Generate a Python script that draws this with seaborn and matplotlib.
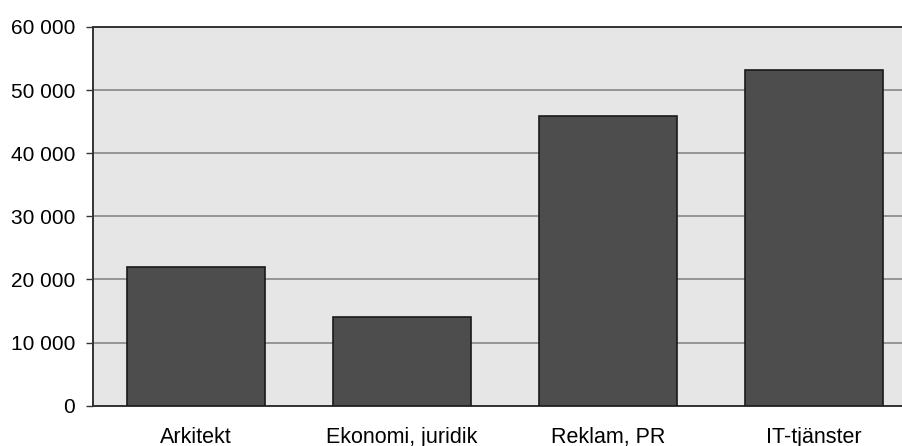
import matplotlib
matplotlib.use("Agg")
import matplotlib.pyplot as plt
import matplotlib.ticker as mticker
import pandas as pd
import seaborn as sns

categories = ["Arkitekt", "Ekonomi, juridik", "Reklam, PR", "IT-tjänster"]
values = [21950, 14000, 45850, 53250]
y_ticks = [0, 10000, 20000, 30000, 40000, 50000, 60000]

df = pd.DataFrame({"bransch": categories, "antal": values})

sns.set_style("white")
plt.rcParams["font.family"] = ["Liberation Sans", "DejaVu Sans"]

fig = plt.figure(figsize=(9.02, 4.46), dpi=100)
ax = fig.add_axes([93 / 902, 40.3 / 446, 824 / 902, 378.7 / 446])
ax.set_facecolor("#e6e6e6")

sns.barplot(data=df, x="bransch", y="antal", color="#4d4d4d", saturation=1,
            width=0.67, edgecolor="#1a1a1a", linewidth=1.2, ax=ax, zorder=3)

ax.set_xlim(-0.5, 3.5)
ax.set_ylim(0, 60000)
ax.set_yticks(y_ticks)
ax.yaxis.set_major_formatter(
    mticker.FuncFormatter(lambda v, p: f"{int(v):,}".replace(",", " ")))
ax.yaxis.grid(True, color="#808080", linewidth=1.1, zorder=1)
ax.set_axisbelow(True)

ax.tick_params(axis="y", length=5, width=1, color="#333333", pad=8,
               labelsize=15, labelcolor="black", left=True)
ax.tick_params(axis="x", length=0, pad=15.5, labelsize=15.5, labelcolor="black")

for side in ["left", "bottom", "top"]:
    ax.spines[side].set_visible(True)
    ax.spines[side].set_color("#333333")
    ax.spines[side].set_linewidth(1.4)
ax.spines["right"].set_visible(False)

ax.set_xlabel("")
ax.set_ylabel("")

fig.savefig("out.png", dpi=100)
